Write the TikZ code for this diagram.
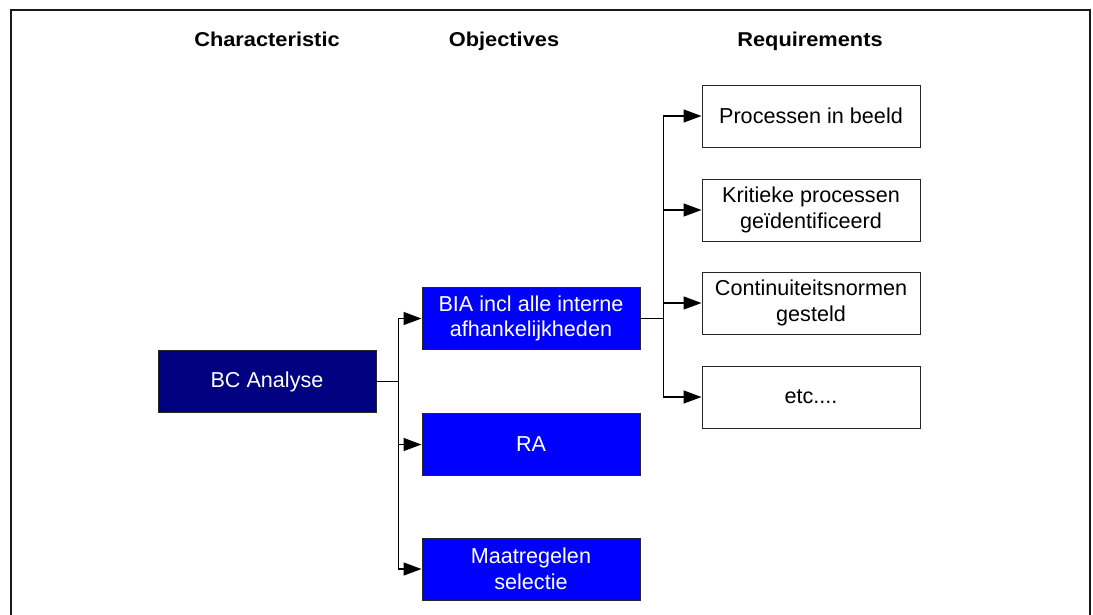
\documentclass[tikz,border=0pt]{standalone}
\usepackage{fontspec}
\setmainfont{Liberation Sans}
\usetikzlibrary{arrows.meta}
\definecolor{navy}{HTML}{000080}
\definecolor{brightblue}{HTML}{0000FF}
\begin{document}
\begin{tikzpicture}[x=1pt,y=-1pt,
  boxtext/.style={font=\fontsize{21.6}{25.5}\selectfont, align=center},
  basebox/.style={boxtext, draw=black!85, line width=1pt, minimum width=218pt, minimum height=62pt, inner sep=0pt},
  charbox/.style={basebox, fill=navy, text=white},
  objbox/.style={basebox, fill=brightblue, text=white},
  reqbox/.style={basebox, fill=white, text=black},
  header/.style={font=\bfseries\fontsize{20}{24}\selectfont, xscale=1.09, anchor=base},
  conn/.style={draw=black, line width=1.4pt, -{Triangle[length=18pt,width=13pt]}}
]
\useasboundingbox (0,0) rectangle (1093,614);
\fill[white] (0,0) rectangle (1093,614);

% outer frame, open at the bottom
\draw[line width=2pt, black!90] (11,620) -- (11,10) -- (1090,10) -- (1090,620);

% column headings
\node[header] (hchar) at (267,46) {Characteristic};
\node[header] (hobj)  at (504,46) {Objectives};
\node[header] (hreq)  at (810,46) {Requirements};

% characteristic
\node[charbox] (bc) at (267,381.5) {BC Analyse};

% objectives
\node[objbox] (bia) at (531,318.5) {BIA incl alle interne\\afhankelijkheden};
\node[objbox] (ra)  at (531,444.5) {RA};
\node[objbox] (mr)  at (531,569)   {Maatregelen\\selectie};

% requirements
\node[reqbox] (r1) at (811,116) {Processen in beeld};
\node[reqbox] (r2) at (811,210) {Kritieke processen\\geïdentificeerd};
\node[reqbox] (r3) at (811,303) {Continuiteitsnormen\\gesteld};
\node[reqbox] (r4) at (811,397) {etc....};

% characteristic -> objectives
\draw[conn] (bc.east) -- ++(22,0) |- (bia.west);
\draw[conn] (bc.east) -- ++(22,0) |- (ra.west);
\draw[conn] (bc.east) -- ++(22,0) |- (mr.west);

% objective -> requirements
\draw[conn] (bia.east) -- ++(23,0) |- (r1.west);
\draw[conn] (bia.east) -- ++(23,0) |- (r2.west);
\draw[conn] (bia.east) -- ++(23,0) |- (r3.west);
\draw[conn] (bia.east) -- ++(23,0) |- (r4.west);
\end{tikzpicture}
\end{document}
